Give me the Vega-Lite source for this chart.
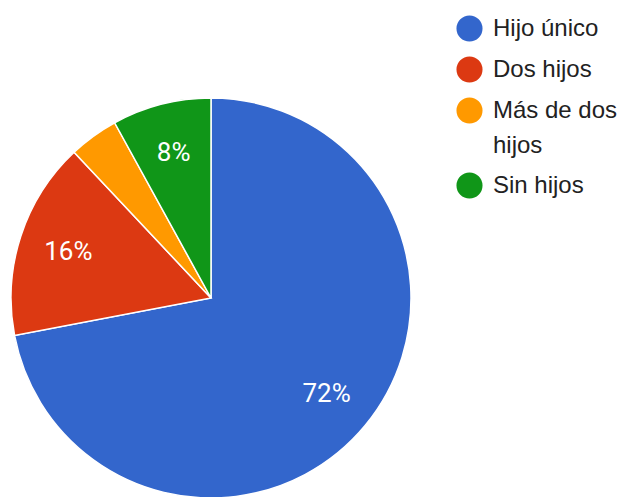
{
  "$schema": "https://vega.github.io/schema/vega-lite/v6.json",
  "width": 422,
  "height": 398,
  "autosize": "none",
  "padding": {"left": 0, "top": 99, "right": 205, "bottom": 0},
  "background": "white",
  "config": {
    "view": {"stroke": null},
    "font": "Roboto",
    "style": {"guide-label": {"lineHeight": 35}}
  },
  "data": {
    "values": [
      {"categoria": "Hijo único", "porcentaje": 72, "orden": 1, "etiqueta": "72%"},
      {"categoria": "Dos hijos", "porcentaje": 16, "orden": 2, "etiqueta": "16%"},
      {"categoria": "Más de dos hijos", "porcentaje": 4, "orden": 3, "etiqueta": ""},
      {"categoria": "Sin hijos", "porcentaje": 8, "orden": 4, "etiqueta": "8%"}
    ]
  },
  "encoding": {
    "theta": {"field": "porcentaje", "type": "quantitative", "stack": true},
    "order": {"field": "orden", "type": "quantitative"}
  },
  "layer": [
    {
      "mark": {"type": "arc", "outerRadius": 200, "stroke": "white", "strokeWidth": 1.5},
      "encoding": {
        "color": {
          "field": "categoria",
          "type": "nominal",
          "sort": ["Hijo único", "Dos hijos", "Más de dos hijos", "Sin hijos"],
          "scale": {
            "domain": ["Hijo único", "Dos hijos", "Más de dos hijos", "Sin hijos"],
            "range": ["#3366cc", "#dc3912", "#ff9900", "#109618"]
          },
          "legend": {
            "title": null,
            "orient": "none",
            "legendX": 456,
            "legendY": -84,
            "symbolType": "circle",
            "symbolSize": 680,
            "symbolStrokeWidth": 0,
            "labelFontSize": 24,
            "labelColor": "#222222",
            "labelFont": "Liberation Sans",
            "labelOffset": 10,
            "rowPadding": 14,
            "labelLimit": 300,
            "labelExpr": "datum.label == 'Más de dos hijos' ? ['Más de dos', 'hijos'] : datum.label",
            "encode": {"labels": {"update": {"lineHeight": {"value": 35}}}}
          }
        }
      }
    },
    {
      "mark": {"type": "text", "radius": 150, "fontSize": 26, "font": "Roboto"},
      "encoding": {
        "text": {"field": "etiqueta", "type": "nominal"},
        "color": {"value": "white"}
      }
    }
  ]
}
